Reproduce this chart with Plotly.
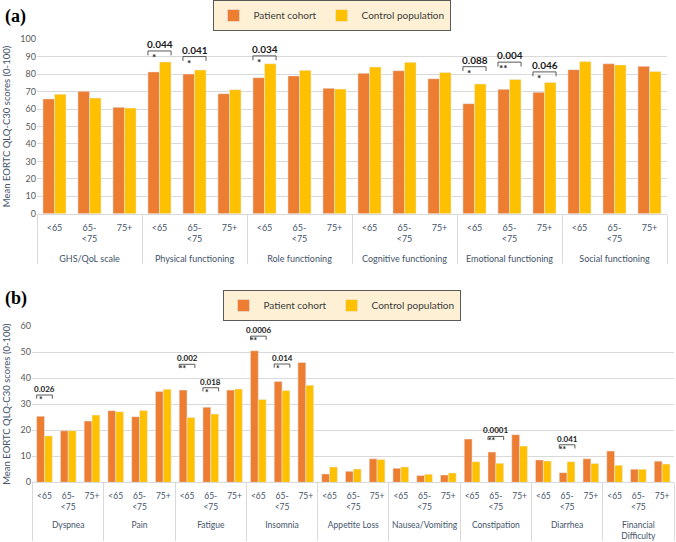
import plotly.graph_objects as go

# ---------------- data ----------------
ages = ["<65", "65-<br><75", "75+"]

groups_a = ["GHS/QoL scale", "Physical functioning", "Role functioning",
            "Cognitive functioning", "Emotional functioning", "Social functioning"]
patient_a = [65.8, 70.2, 61.0, 81.3, 80.1, 68.8, 78.0, 79.0, 71.9,
             80.5, 82.0, 77.4, 63.1, 71.3, 69.6, 82.6, 86.0, 84.5]
control_a = [68.5, 66.3, 60.6, 87.0, 82.4, 71.1, 86.0, 82.2, 71.5,
             84.1, 86.8, 81.0, 74.4, 77.0, 75.3, 87.2, 85.3, 81.6]

groups_b = ["Dyspnea", "Pain", "Fatigue", "Insomnia", "Appetite Loss",
            "Nausea/Vomiting", "Constipation", "Diarrhea", "Financial<br>Difficulty"]
patient_b = [25.4, 19.8, 23.5, 27.5, 25.2, 34.9, 35.4, 28.8, 35.4,
             50.5, 38.7, 46.0, 3.2, 4.2, 9.0, 5.4, 2.6, 2.8,
             16.6, 11.6, 18.3, 8.6, 3.7, 9.0, 12.0, 5.0, 8.1]
control_b = [17.8, 19.8, 25.8, 27.1, 27.6, 35.7, 24.9, 26.2, 35.8,
             31.8, 35.2, 37.3, 5.9, 5.1, 8.8, 5.9, 3.1, 3.6,
             7.9, 7.3, 13.9, 8.2, 7.9, 7.2, 6.5, 5.0, 7.0]

sig_a_groups = ["Physical functioning", "Physical functioning", "Role functioning",
                "Emotional functioning", "Emotional functioning", "Emotional functioning"]
sig_a_ages = ["<65", "65-<br><75", "<65", "<65", "65-<br><75", "75+"]
sig_a_p = ["0.044", "0.041", "0.034", "0.088", "0.004", "0.046"]
sig_a_stars = ["*", "*", "*", "*", "**", "*"]

sig_b_groups = ["Dyspnea", "Fatigue", "Fatigue", "Insomnia", "Insomnia", "Constipation", "Diarrhea"]
sig_b_ages = ["<65", "<65", "65-<br><75", "<65", "65-<br><75", "65-<br><75", "65-<br><75"]
sig_b_p = ["0.026", "0.002", "0.018", "0.0006", "0.014", "0.0001", "0.041"]
sig_b_stars = ["*", "**", "*", "**", "*", "**", "**"]

# bracket heights above the taller bar (annotation layout, data units)
gap_a = [6.3, 7.7, 4.5, 9.9, 9.9, 6.0]
gap_b = [8.1, 9.9, 7.5, 5.6, 6.7, 6.0, 6.5]

# ---------------- styling ----------------
W, H = 676, 542
C_PAT = "#ED7D31"
C_CON = "#FFC000"
TXT = "#44546A"
GRID = "#D9D9D9"
BARGAP = 0.34


def xcats(groups):
    # leading line break drops the group row a little below the age row
    gx, ax = [], []
    for g in groups:
        for a in ages:
            gx.append("<br>" + g)
            ax.append(a)
    return [gx, ax]


fig = go.Figure()

xa = xcats(groups_a)
xb = xcats(groups_b)

fig.add_trace(go.Bar(x=xa, y=patient_a, name="Patient cohort", marker_color=C_PAT,
                     xaxis="x", yaxis="y", legend="legend"))
fig.add_trace(go.Bar(x=xa, y=control_a, name="Control population", marker_color=C_CON,
                     xaxis="x", yaxis="y", legend="legend"))
fig.add_trace(go.Bar(x=xb, y=patient_b, name="Patient cohort", marker_color=C_PAT,
                     xaxis="x2", yaxis="y2", legend="legend2"))
fig.add_trace(go.Bar(x=xb, y=control_b, name="Control population", marker_color=C_CON,
                     xaxis="x2", yaxis="y2", legend="legend2"))

shapes = []
annots = []


def add_sig(groups, pat, con, sg, sa, sp, ss, gaps, xref, yref, tick, pfont, sfont):
    half = (1 - BARGAP) / 2
    for g, a, p, s, gp in zip(sg, sa, sp, ss, gaps):
        i = groups.index(g) * 3 + ages.index(a)
        top = max(pat[i], con[i]) + gp
        x0, x1 = i - half, i + half
        line = dict(color="#595959", width=1)
        shapes.append(dict(type="line", xref=xref, yref=yref, x0=x0, x1=x1, y0=top, y1=top, line=line))
        shapes.append(dict(type="line", xref=xref, yref=yref, x0=x0, x1=x0, y0=top, y1=top - tick, line=line))
        shapes.append(dict(type="line", xref=xref, yref=yref, x0=x1, x1=x1, y0=top, y1=top - tick, line=line))
        annots.append(dict(x=i, y=top, xref=xref, yref=yref, text="<b>%s</b>" % p, showarrow=False,
                           yanchor="bottom", yshift=-1, font=dict(size=pfont, color="#1a1a1a", family="Lato")))
        annots.append(dict(x=i - half / 2, y=top, xref=xref, yref=yref, text="<b>%s</b>" % s, showarrow=False,
                           yanchor="top", yshift=2, font=dict(size=sfont, color="#1a1a1a", family="Lato")))


add_sig(groups_a, patient_a, control_a, sig_a_groups, sig_a_ages, sig_a_p, sig_a_stars, gap_a,
        "x", "y", 2.5, 10, 10)
add_sig(groups_b, patient_b, control_b, sig_b_groups, sig_b_ages, sig_b_p, sig_b_stars, gap_b,
        "x2", "y2", 1.4, 8, 8.5)

annots.append(dict(x=3 / W, y=1 - 4 / H, xref="paper", yref="paper", text="<b>(a)</b>",
                   showarrow=False, xanchor="left", yanchor="top",
                   font=dict(family="Liberation Serif", size=18, color="#000")))
annots.append(dict(x=3 / W, y=1 - 286 / H, xref="paper", yref="paper", text="<b>(b)</b>",
                   showarrow=False, xanchor="left", yanchor="top",
                   font=dict(family="Liberation Serif", size=18, color="#000")))

xaxis_common = dict(type="multicategory", showgrid=False, showline=True, linecolor=GRID,
                    showdividers=True, dividercolor=GRID, dividerwidth=1, automargin=False,
                    tickangle=0, ticks="", ticklabelstandoff=5)
yaxis_common = dict(showgrid=True, gridcolor=GRID, gridwidth=1, zeroline=False, showline=False,
                    automargin=False,
                    tickfont=dict(size=9, color="#595959", family="Lato"), ticks="",
                    title=dict(text="Mean EORTC QLQ-C30 scores (0-100)", standoff=8,
                               font=dict(size=9.5, color=TXT, family="Lato")))

fig.update_layout(
    width=W, height=H,
    margin=dict(l=0, r=0, t=0, b=0, autoexpand=False),
    paper_bgcolor="white", plot_bgcolor="white",
    barmode="group", bargap=BARGAP, bargroupgap=0,
    font=dict(family="Lato", color=TXT),
    xaxis=dict(domain=[37 / W, 667 / W], anchor="y",
               tickfont=dict(size=9, color=TXT, family="Lato"), **xaxis_common),
    yaxis=dict(domain=[1 - 213.7 / H, 1 - 39.3 / H], anchor="x", range=[0, 100], dtick=10,
               **yaxis_common),
    xaxis2=dict(domain=[32 / W, 674 / W], anchor="y2",
                tickfont=dict(size=8.5, color=TXT, family="Lato"), **xaxis_common),
    yaxis2=dict(domain=[1 - 482.3 / H, 1 - 326 / H], anchor="x2", range=[0, 60], dtick=10,
                **yaxis_common),
    legend=dict(orientation="h", x=331.5 / W, y=1, xanchor="center", yanchor="top",
                bgcolor="#FDF0D5", bordercolor="#595959", borderwidth=1, itemwidth=30,
                font=dict(size=10, color="#3a3a3a", family="Lato")),
    legend2=dict(orientation="h", x=341.5 / W, y=1 - 290 / H, xanchor="center", yanchor="top",
                 bgcolor="#FDF0D5", bordercolor="#595959", borderwidth=1, itemwidth=30,
                 font=dict(size=10, color="#3a3a3a", family="Lato")),
    shapes=shapes,
    annotations=annots,
)

fig.write_html("out.html", config={"displayModeBar": False},
               post_script="document.body.style.margin='0';")
